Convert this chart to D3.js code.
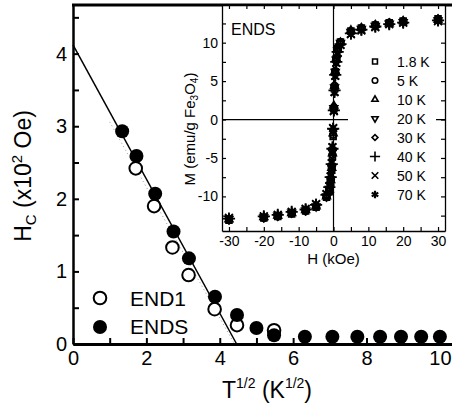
<!DOCTYPE html>
<html>
<head>
<meta charset="utf-8">
<script src="https://cdn.jsdelivr.net/npm/d3@7"></script>
<style>
  body { margin: 0; background: #fff; }
  svg { display: block; font-family: "Liberation Sans", Arial, sans-serif; }
  .axis text { fill: #000; }
</style>
</head>
<body>
<div id="chart"></div>
<script>
// main panel: coercive field vs sqrt(T)
const sqrtT_ENDS = [1.34, 1.73, 2.24, 2.74, 3.16, 3.87, 4.47, 5.0, 5.48, 6.32, 7.07, 7.75, 8.37, 8.94, 9.49, 10.0];
const hc_ENDS    = [2.93, 2.59, 2.07, 1.55, 1.18, 0.65, 0.40, 0.22, 0.12, 0.10, 0.10, 0.10, 0.10, 0.10, 0.10, 0.10];
const sqrtT_END1 = [1.71, 2.21, 2.71, 3.15, 3.86, 4.47, 5.48];
const hc_END1    = [2.42, 1.90, 1.33, 0.95, 0.48, 0.26, 0.19];
const fitENDS = [[0, 4.12], [4.46, 0]];
const fitEND1 = [[1.0, 3.06], [4.40, 0]];
const xTicksMain = [0, 1, 2, 3, 4, 5, 6, 7, 8, 9, 10];
const yTicksMain = [0, 0.5, 1, 1.5, 2, 2.5, 3, 3.5, 4, 4.5];

// inset: M(H) loops at several temperatures
const fieldH = [-30, -20, -16, -12, -8, -5, -2, -1.2, -0.8, -0.5, -0.3, -0.1, 0.1, 0.3, 0.5, 0.8, 1.2, 2, 5, 8, 12, 16, 20, 30];
const temps = ["1.8 K", "5 K", "10 K", "20 K", "30 K", "40 K", "50 K", "70 K"];
const m_1p8 = [-13.1, -12.8, -12.6, -12.3, -11.9, -11.4, -10.1, -9.3, -8.2, -6.6, -4.8, -2.2, 1.4, 4.2, 6.2, 7.9, 9.2, 10.1, 11.5, 11.9, 12.3, 12.6, 12.8, 13.1];
const m_5   = [-13.0, -12.8, -12.6, -12.2, -11.9, -11.4, -10.1, -9.2, -8.0, -6.4, -4.6, -2.0, 1.6, 4.4, 6.3, 8.0, 9.2, 10.1, 11.5, 11.9, 12.3, 12.6, 12.8, 13.0];
const m_10  = [-13.0, -12.7, -12.5, -12.2, -11.8, -11.3, -10.0, -9.1, -7.9, -6.3, -4.4, -1.8, 1.8, 4.4, 6.3, 7.9, 9.1, 10.0, 11.6, 11.9, 12.3, 12.5, 12.8, 13.0];
const m_20  = [-12.9, -12.7, -12.5, -12.1, -11.8, -11.3, -10.0, -9.0, -7.8, -6.2, -4.2, -1.5, 1.5, 4.2, 6.2, 7.8, 9.0, 10.0, 11.4, 11.8, 12.2, 12.5, 12.7, 12.9];
const m_30  = [-12.9, -12.7, -12.5, -12.1, -11.8, -11.2, -9.9, -8.9, -7.6, -6.0, -4.0, -1.3, 1.3, 4.0, 6.0, 7.6, 8.9, 9.9, 11.3, 11.8, 12.2, 12.5, 12.7, 12.9];
const m_40  = [-12.9, -12.6, -12.4, -12.0, -11.7, -11.1, -9.8, -8.8, -7.5, -5.8, -3.8, -1.2, 1.2, 3.8, 5.8, 7.5, 8.8, 9.8, 11.2, 11.7, 12.1, 12.4, 12.6, 12.9];
const m_50  = [-12.8, -12.6, -12.4, -12.0, -11.6, -11.0, -9.7, -8.7, -7.4, -5.7, -3.6, -1.1, 1.1, 3.6, 5.7, 7.4, 8.7, 9.7, 11.1, 11.6, 12.0, 12.4, 12.6, 12.8];
const m_70  = [-12.8, -12.5, -12.3, -11.9, -11.5, -10.9, -9.6, -8.5, -7.2, -5.5, -3.4, -1.0, 1.0, 3.4, 5.5, 7.2, 8.5, 9.6, 11.0, 11.5, 11.9, 12.3, 12.5, 12.8];
const mSeries = [m_1p8, m_5, m_10, m_20, m_30, m_40, m_50, m_70];
const xTicksInset = [-30, -25, -20, -15, -10, -5, 0, 5, 10, 15, 20, 25, 30];
const yTicksInset = [-12.5, -10, -7.5, -5, -2.5, 0, 2.5, 5, 7.5, 10, 12.5];

const width = 452, height = 413;
const svg = d3.select("#chart").append("svg")
    .attr("width", width)
    .attr("height", height);

// ---------- main panel ----------
let xScale = d3.scaleLinear().domain([0, 10.33]).range([73, 452]);
let yScale = d3.scaleLinear().domain([0, 4.67]).range([344, 5]);

let xAxis = d3.axisBottom(xScale)
    .tickValues(xTicksMain)
    .tickFormat(d => d % 2 === 0 ? d : "")
    .tickSizeInner(-6).tickSizeOuter(0).tickPadding(7);
let yAxis = d3.axisLeft(yScale)
    .tickValues(yTicksMain)
    .tickFormat(d => Number.isInteger(d) ? d : "")
    .tickSizeInner(-6).tickSizeOuter(0).tickPadding(6);

let gx = svg.append("g").attr("class", "axis")
    .attr("transform", "translate(0," + yScale(0) + ")")
    .call(xAxis);
gx.select(".domain").attr("stroke-width", 3);
gx.selectAll(".tick line").attr("stroke-width", 2);
gx.selectAll("text").attr("font-size", 20).attr("font-family", "Liberation Sans, Arial");

let gy = svg.append("g").attr("class", "axis")
    .attr("transform", "translate(" + xScale(0) + ",0)")
    .call(yAxis);
gy.select(".domain").attr("stroke-width", 2.5);
gy.selectAll(".tick line").attr("stroke-width", 2);
gy.selectAll("text").attr("font-size", 20).attr("font-family", "Liberation Sans, Arial");

// top frame
svg.append("line")
    .attr("x1", xScale(0) - 1).attr("x2", width)
    .attr("y1", yScale(4.67)).attr("y2", yScale(4.67))
    .attr("stroke", "#000").attr("stroke-width", 3);

let line = d3.line().x(d => xScale(d[0])).y(d => yScale(d[1]));

svg.append("path").datum(fitEND1)
    .attr("d", line).attr("fill", "none")
    .attr("stroke", "#999").attr("stroke-width", 1)
    .attr("stroke-dasharray", "1,3");
svg.append("path").datum(fitENDS)
    .attr("d", line).attr("fill", "none")
    .attr("stroke", "#000").attr("stroke-width", 1.5);

// open circles first, filled ones drawn on top
svg.append("g").selectAll("circle")
    .data(sqrtT_END1.map((t, i) => [t, hc_END1[i]]))
    .join("circle")
    .attr("cx", d => xScale(d[0])).attr("cy", d => yScale(d[1]))
    .attr("r", 6.3).attr("fill", "#fff")
    .attr("stroke", "#000").attr("stroke-width", 2);

svg.append("g").selectAll("circle")
    .data(sqrtT_ENDS.map((t, i) => [t, hc_ENDS[i]]))
    .join("circle")
    .attr("cx", d => xScale(d[0])).attr("cy", d => yScale(d[1]))
    .attr("r", 7).attr("fill", "#000");

// legend
svg.append("circle").attr("cx", 100).attr("cy", 298).attr("r", 6.3)
    .attr("fill", "#fff").attr("stroke", "#000").attr("stroke-width", 2);
svg.append("circle").attr("cx", 100).attr("cy", 327).attr("r", 7).attr("fill", "#000");
svg.append("text").attr("x", 130).attr("y", 306).attr("font-size", 21).text("END1");
svg.append("text").attr("x", 130).attr("y", 334).attr("font-size", 21).text("ENDS");

// axis titles
let yTitle = svg.append("text")
    .attr("transform", "translate(31,176) rotate(-90)")
    .attr("text-anchor", "middle").attr("font-size", 23);
yTitle.append("tspan").text("H");
yTitle.append("tspan").attr("font-size", 15).attr("dy", 5).text("C");
yTitle.append("tspan").attr("dy", -5).text(" (x10");
yTitle.append("tspan").attr("font-size", 15).attr("dy", -9).text("2");
yTitle.append("tspan").attr("dy", 9).text(" Oe)");

let xTitle = svg.append("text")
    .attr("x", 267).attr("y", 398)
    .attr("text-anchor", "middle").attr("font-size", 23);
xTitle.append("tspan").text("T");
xTitle.append("tspan").attr("font-size", 14).attr("dy", -10).text("1/2");
xTitle.append("tspan").attr("dy", 10).text(" (K");
xTitle.append("tspan").attr("font-size", 14).attr("dy", -10).text("1/2");
xTitle.append("tspan").attr("dy", 10).text(")");

// ---------- inset ----------
let ix = d3.scaleLinear().domain([-32, 32]).range([222, 445]);
let iy = d3.scaleLinear().domain([-14.5, 14.9]).range([231, 5]);

let inset = svg.append("g");
inset.append("rect")
    .attr("x", ix(-32)).attr("y", iy(14.9) + 1.5)
    .attr("width", ix(32) - ix(-32)).attr("height", iy(-14.5) - iy(14.9) - 1.5)
    .attr("fill", "#fff");

// zero lines
inset.append("line")
    .attr("x1", ix(0)).attr("x2", ix(0))
    .attr("y1", iy(14.9)).attr("y2", iy(-14.5))
    .attr("stroke", "#000").attr("stroke-width", 1.2);
inset.append("line")
    .attr("x1", ix(-32)).attr("x2", ix(32))
    .attr("y1", iy(0)).attr("y2", iy(0))
    .attr("stroke", "#000").attr("stroke-width", 1.2);

function styleInsetAxis(g) {
    g.select(".domain").attr("stroke-width", 1.3);
    g.selectAll(".tick line").attr("stroke-width", 1.2);
    g.selectAll("text").attr("font-size", 14).attr("font-family", "Liberation Sans, Arial");
}

inset.append("g").attr("class", "axis")
    .attr("transform", "translate(0," + iy(-14.5) + ")")
    .call(d3.axisBottom(ix).tickValues(xTicksInset)
        .tickFormat(d => d % 10 === 0 ? d : "")
        .tickSizeInner(-4).tickSizeOuter(0).tickPadding(5))
    .call(styleInsetAxis);
inset.append("g").attr("class", "axis")
    .attr("transform", "translate(0," + iy(14.9) + ")")
    .call(d3.axisTop(ix).tickValues(xTicksInset).tickFormat("")
        .tickSizeInner(-4).tickSizeOuter(0))
    .call(g => g.select(".domain").remove())
    .call(styleInsetAxis);
inset.append("g").attr("class", "axis")
    .attr("transform", "translate(" + ix(-32) + ",0)")
    .call(d3.axisLeft(iy).tickValues(yTicksInset)
        .tickFormat(d => d % 5 === 0 ? d : "")
        .tickSizeInner(-4).tickSizeOuter(0).tickPadding(4))
    .call(styleInsetAxis);
inset.append("g").attr("class", "axis")
    .attr("transform", "translate(" + ix(32) + ",0)")
    .call(d3.axisRight(iy).tickValues(yTicksInset).tickFormat("")
        .tickSizeInner(-4).tickSizeOuter(0))
    .call(styleInsetAxis);

const symbolTypes = [d3.symbolSquare2, d3.symbolCircle, d3.symbolTriangle2, d3.symbolTriangle2,
                     d3.symbolSquare2, d3.symbolPlus, d3.symbolTimes, d3.symbolAsterisk];
const symbolRot = [0, 0, 0, 180, 45, 0, 0, 0];
const symbolSize = [30, 24, 28, 28, 22, 36, 30, 40];

function symbolPath(i, scaleUp) {
    return d3.symbol().type(symbolTypes[i]).size(symbolSize[i] * (scaleUp || 1))();
}

mSeries.forEach((ms, i) => {
    inset.append("g").selectAll("path")
        .data(fieldH.map((h, j) => [h, ms[j]]))
        .join("path")
        .attr("d", symbolPath(i, 1.4))
        .attr("transform", d => "translate(" + ix(d[0]) + "," + iy(d[1]) + ") rotate(" + symbolRot[i] + ")")
        .attr("fill", "none")
        .attr("stroke", "#000").attr("stroke-width", 1.8);
});

// inset legend
let leg = inset.append("g");
leg.append("rect").attr("x", 348).attr("y", 50).attr("width", 88).attr("height", 156).attr("fill", "#fff");
temps.forEach((t, i) => {
    let yy = 61.5 + i * 19;
    leg.append("path")
        .attr("d", symbolPath(i, 1))
        .attr("transform", "translate(375," + yy + ") rotate(" + symbolRot[i] + ")")
        .attr("fill", "none").attr("stroke", "#000")
        .attr("stroke-width", i === 7 ? 2.2 : 1.6);
    leg.append("text").attr("x", 397).attr("y", yy + 5)
        .attr("font-size", 14).text(t);
});

inset.append("text").attr("x", 231).attr("y", 35).attr("font-size", 16).text("ENDS");

inset.append("text")
    .attr("x", ix(0)).attr("y", 264)
    .attr("text-anchor", "middle").attr("font-size", 15)
    .text("H (kOe)");

let mTitle = inset.append("text")
    .attr("transform", "translate(195,129) rotate(-90)")
    .attr("text-anchor", "middle").attr("font-size", 15);
mTitle.append("tspan").text("M (emu/g Fe");
mTitle.append("tspan").attr("font-size", 10).attr("dy", 3).text("3");
mTitle.append("tspan").attr("dy", -3).text("O");
mTitle.append("tspan").attr("font-size", 10).attr("dy", 3).text("4");
mTitle.append("tspan").attr("dy", -3).text(")");
</script>
</body>
</html>
